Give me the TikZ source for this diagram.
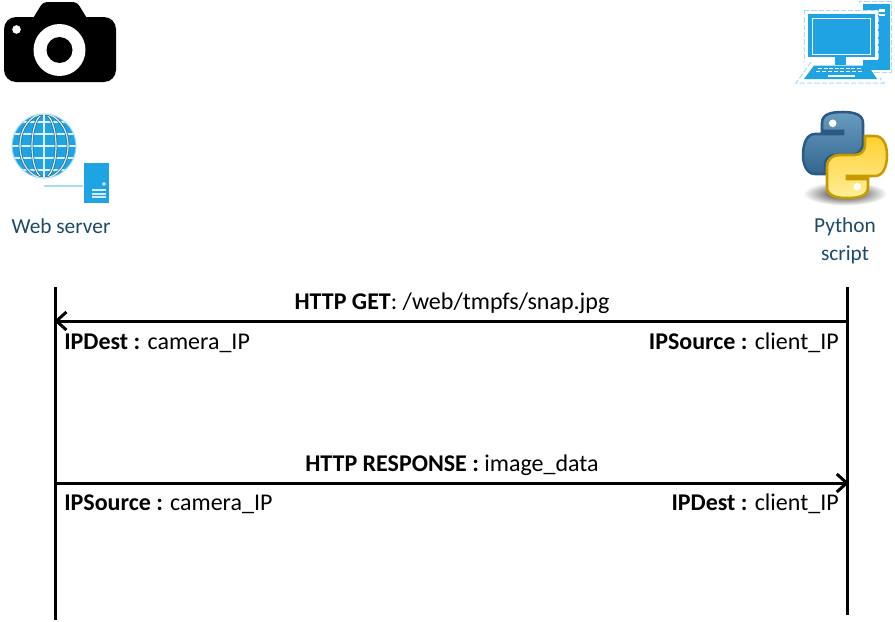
\documentclass[tikz,border=0pt]{standalone}
\usepackage{fontspec}
\setmainfont{Carlito}
\usetikzlibrary{arrows.meta}
\definecolor{iconblue}{HTML}{1FA3E3}
\definecolor{lightblue}{HTML}{A8DCF5}
\definecolor{labelblue}{HTML}{1B4A6B}
\definecolor{gridblue}{HTML}{2B6E96}
\definecolor{pyblue}{HTML}{2B5B84}
\definecolor{pyblueA}{HTML}{6A9CC0}
\definecolor{pyblueB}{HTML}{33668F}
\definecolor{pyyellow}{HTML}{C79A00}
\definecolor{pyyelA}{HTML}{FFEE9A}
\definecolor{pyyelB}{HTML}{FFD030}
\tikzset{
  lifeline/.style={line width=2.25pt,black},
  msg/.style={line width=2.25pt,black,-{Straight Barb[length=7.5pt,width=13.5pt,line width=2.25pt]}},
  msgtext/.style={font=\fontsize{18pt}{22pt}\selectfont,text=black,inner sep=0pt},
  iconlabel/.style={font=\fontsize{16pt}{21pt}\selectfont,text=labelblue,inner sep=0pt,align=center},
  dashline/.style={lightblue,line width=0.75pt,dash pattern=on 4pt off 1.5pt},
  pysnake/.pic={
    \path[pic actions]
     (-23,-32) .. controls (-23,-41) and (-14,-43) .. (-2,-43) .. controls (10,-43) and (18,-40) .. (18,-32)
     -- (18,-12) .. controls (18,-4) and (12,0) .. (6,0) -- (-9,0) .. controls (-16,0) and (-20,4) .. (-20,10)
     -- (-20,19) -- (-30,19) .. controls (-38,19) and (-42,10) .. (-42,0) .. controls (-42,-12) and (-38,-21) .. (-30,-21)
     -- (-2,-21) -- (-2,-24) -- (-23,-24) -- cycle;
    \fill[white] (-12.3,-31.7) circle (3.8);
  },
}
\begin{document}
\begin{tikzpicture}[x=0.75pt,y=-0.75pt]
\useasboundingbox (0,0) rectangle (895,621);
% camera
\fill[black,rounded corners=9pt] (4,17) rectangle (116,82);
\fill[black,rounded corners=3pt] (32,20) -- (43,2) -- (77,2) -- (88,20) -- cycle;
\fill[white] (59.5,50) circle (26);
\fill[black] (59.5,50) circle (13);
\fill[white] (16.5,29.5) circle (4.3);
% globe
\begin{scope}
\clip (44,146) circle (32);
\fill[iconblue] (44,146) circle (32);
\foreach \yy in {-24,-12,0,12,24}{
  \draw[gridblue,line width=2pt] (10,146+\yy) -- (78,146+\yy);
  \draw[white!85!iconblue,line width=0.9pt] (10,146+\yy) -- (78,146+\yy);
}
\foreach \rr in {12,24}{
  \draw[gridblue,line width=2pt] (44,146) ellipse ({\rr} and 32);
  \draw[white!85!iconblue,line width=0.9pt] (44,146) ellipse ({\rr} and 32);
}
\draw[gridblue,line width=2pt] (44,112) -- (44,180);
\draw[white!85!iconblue,line width=0.9pt] (44,112) -- (44,180);
\end{scope}
\draw[lightblue,line width=0.8pt] (44,146) circle (32);
% web server box
\fill[iconblue] (84,163) rectangle (109,203);
\draw[lightblue,line width=0.9pt] (44,186) -- (83,186);
\draw[white,line width=0.5pt] (104,184) circle (1.4);
\fill[white!80!iconblue] (92,189) rectangle (106,191);
\fill[white!80!iconblue] (92,192.5) rectangle (106,194.5);
\fill[white!80!iconblue] (92,196) rectangle (106,198);
% computer
\fill[iconblue] (862.5,4) rectangle (890,70);
\draw[dashline] (859,3) -- (859,1) -- (891.5,1) -- (891.5,72) -- (872,72);
\fill[white] (879,9) rectangle (885,11.5);
\fill[white] (879,13.5) rectangle (885,15.5);
\fill[white] (804,10) rectangle (878,60);
\fill[iconblue] (808,14) rectangle (874.5,57);
\draw[dashline] (804,10) -- (878,10) -- (878,60);
\draw[dashline] (804,10) -- (804,62);
\draw[white,line width=0.6pt] (812,18) rectangle (870,54);
\fill[iconblue] (835,57) rectangle (846,65);
\fill[iconblue] (814,65.5) -- (868,65.5) -- (877,79) -- (804,79) -- cycle;
\foreach \i in {0,...,7}{
  \fill[white] (818+\i*5.5,68) rectangle (822+\i*5.5,69.3);
  \fill[white] (816+\i*6,71) rectangle (820+\i*6,72.3);
}
\fill[white] (828,74.5) rectangle (855,76.5);
\draw[dashline] (811,62) -- (796,83) -- (884,83) -- (880,78);
% python logo
\shade[inner color=black!85,outer color=white] (845,193.5) ellipse (42 and 12);
\pic[draw=pyblue,line width=1.9pt,top color=pyblueA,bottom color=pyblueB] at (845,155) {pysnake};
\pic[draw=pyyellow,line width=1.9pt,top color=pyyelB,bottom color=pyyelA,rotate=180] at (845,155) {pysnake};
% labels
\node[iconlabel] (web) at (61,226.5) {Web server};
\node[iconlabel] (py) at (845,240.5) {Python\\script};
% lifelines
\coordinate (ltop) at (55.7,287);
\coordinate (lbot) at (55.7,620);
\coordinate (rtop) at (847,287);
\coordinate (rbot) at (847,615);
\draw[lifeline] (ltop) -- (lbot);
\draw[lifeline] (rtop) -- (rbot);
\coordinate (a1r) at (847,321);
\coordinate (a1l) at (54.2,321);
\coordinate (a2l) at (55.7,483);
\coordinate (a2r) at (849,483);
\draw[msg] (a1r) -- (a1l);
\draw[msg] (a2l) -- (a2r);
% message text
\node[msgtext] (get) at (452,303) {\textbf{HTTP GET}: /web/tmpfs/snap.jpg};
\node[msgtext,anchor=west] (d1) at (64,343) {\textbf{IPDest :} camera\_IP};
\node[msgtext,anchor=east] (s1) at (839,343) {\textbf{IPSource :} client\_IP};
\node[msgtext] (resp) at (452,465) {\textbf{HTTP RESPONSE :} image\_data};
\node[msgtext,anchor=west] (s2) at (64,504) {\textbf{IPSource :} camera\_IP};
\node[msgtext,anchor=east] (d2) at (839,504) {\textbf{IPDest :} client\_IP};
\end{tikzpicture}
\end{document}
